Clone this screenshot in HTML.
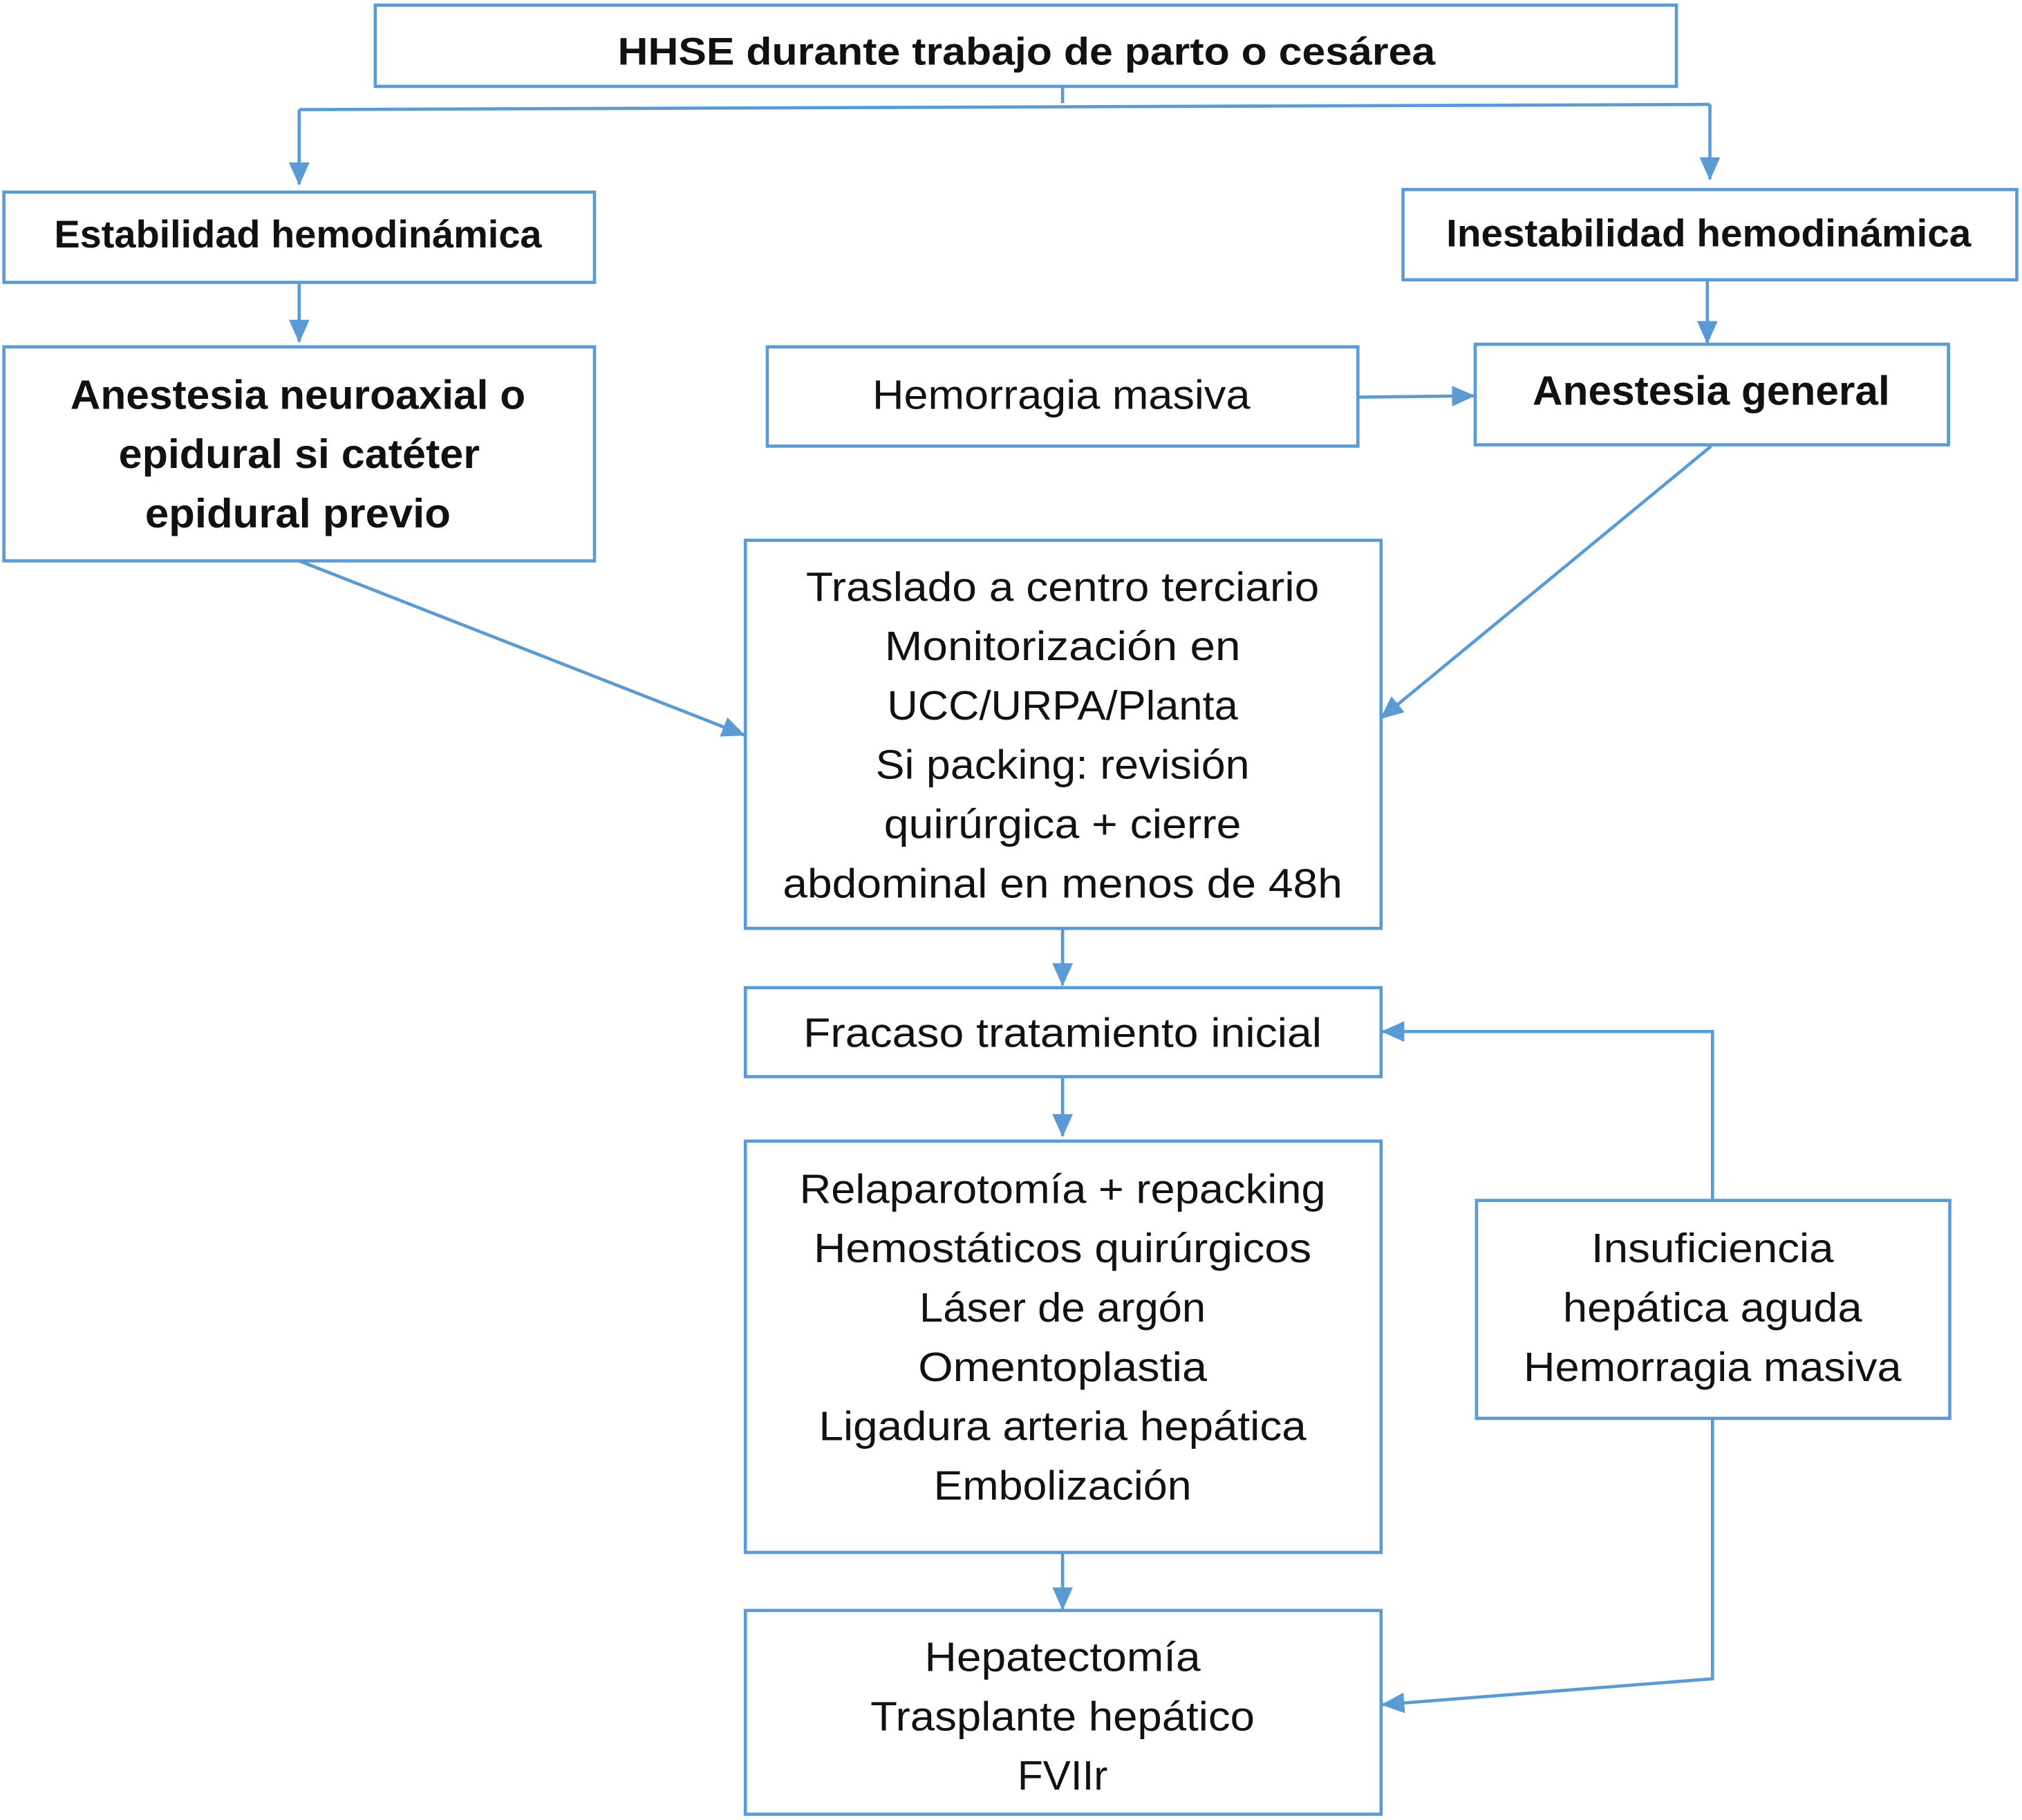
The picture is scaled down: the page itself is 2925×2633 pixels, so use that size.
<!DOCTYPE html>
<html><head><meta charset="utf-8"><style>
html,body{margin:0;padding:0;background:#fff;}
svg{display:block;}
text{font-family:"Liberation Sans",sans-serif;fill:#111;text-anchor:middle;}
.b{font-weight:bold;}
</style></head><body>
<svg width="2925" height="2633" viewBox="0 0 1568 1411.5" xmlns="http://www.w3.org/2000/svg">
<defs>
<marker id="h" markerWidth="18" markerHeight="16" refX="17" refY="8" orient="auto" markerUnits="userSpaceOnUse"><path d="M0,0 L18,8 L0,16 z" fill="#5b9bd5"/></marker></defs>
<g fill="none" stroke="#5b9bd5" stroke-width="2.5">
<rect x="291" y="4" width="1009" height="63"/>
<rect x="3" y="149" width="458" height="70"/>
<rect x="1088" y="147" width="476" height="70"/>
<rect x="3" y="269" width="458" height="166"/>
<rect x="595" y="269" width="458" height="77"/>
<rect x="1144" y="267" width="367" height="78"/>
<rect x="578" y="419" width="493" height="301"/>
<rect x="578" y="766" width="493" height="69"/>
<rect x="578" y="885" width="493" height="319"/>
<rect x="578" y="1249" width="493" height="158"/>
<rect x="1145" y="931" width="367" height="169"/>
<path d="M824,67 V80"/>
<path d="M232,85 L1326,81"/>
<path d="M232,85 V143" marker-end="url(#h)"/>
<path d="M1326,81 V139" marker-end="url(#h)"/>
<path d="M232,219 V265" marker-end="url(#h)"/>
<path d="M1324,217 V266" marker-end="url(#h)"/>
<path d="M1053,308 L1143,307" marker-end="url(#h)"/>
<path d="M1327,346 L1071,557" marker-end="url(#h)"/>
<path d="M232,435 L577,570" marker-end="url(#h)"/>
<path d="M824,720 V764" marker-end="url(#h)"/>
<path d="M824,835 V881" marker-end="url(#h)"/>
<path d="M824,1204 V1248" marker-end="url(#h)"/>
<path d="M1328,931 V800 H1072" marker-end="url(#h)"/>
<path d="M1328,1100 V1302 L1072,1322" marker-end="url(#h)"/>
</g>
<g font-size="30">
<text class="b" x="796" y="50" textLength="634" lengthAdjust="spacingAndGlyphs">HHSE durante trabajo de parto o cesárea</text>
<text class="b" x="231" y="192" textLength="378" lengthAdjust="spacingAndGlyphs">Estabilidad hemodinámica</text>
<text class="b" x="1325" y="191" textLength="407" lengthAdjust="spacingAndGlyphs">Inestabilidad hemodinámica</text>
</g>
<g font-size="32" class="b">
<text class="b" x="231" y="317" textLength="353" lengthAdjust="spacingAndGlyphs">Anestesia neuroaxial o</text>
<text class="b" x="232" y="363" textLength="280" lengthAdjust="spacingAndGlyphs">epidural si catéter</text>
<text class="b" x="231" y="409" textLength="237" lengthAdjust="spacingAndGlyphs">epidural previo</text>
<text class="b" x="1327" y="314" textLength="277" lengthAdjust="spacingAndGlyphs">Anestesia general</text>
</g>
<g font-size="32">
<text x="823" y="317" textLength="293" lengthAdjust="spacingAndGlyphs">Hemorragia masiva</text>
<text x="824" y="466" textLength="398" lengthAdjust="spacingAndGlyphs">Traslado a centro terciario</text>
<text x="824" y="512" textLength="276" lengthAdjust="spacingAndGlyphs">Monitorización en</text>
<text x="824" y="558" textLength="272" lengthAdjust="spacingAndGlyphs">UCC/URPA/Planta</text>
<text x="824" y="604" textLength="290" lengthAdjust="spacingAndGlyphs">Si packing: revisión</text>
<text x="824" y="650" textLength="277" lengthAdjust="spacingAndGlyphs">quirúrgica + cierre</text>
<text x="824" y="696" textLength="434" lengthAdjust="spacingAndGlyphs">abdominal en menos de 48h</text>
<text x="824" y="812" textLength="402" lengthAdjust="spacingAndGlyphs">Fracaso tratamiento inicial</text>
<text x="824" y="933" textLength="408" lengthAdjust="spacingAndGlyphs">Relaparotomía + repacking</text>
<text x="824" y="979" textLength="386" lengthAdjust="spacingAndGlyphs">Hemostáticos quirúrgicos</text>
<text x="824" y="1025" textLength="222" lengthAdjust="spacingAndGlyphs">Láser de argón</text>
<text x="824" y="1071" textLength="224" lengthAdjust="spacingAndGlyphs">Omentoplastia</text>
<text x="824" y="1117" textLength="378" lengthAdjust="spacingAndGlyphs">Ligadura arteria hepática</text>
<text x="824" y="1163" textLength="200" lengthAdjust="spacingAndGlyphs">Embolización</text>
<text x="824" y="1296" textLength="214" lengthAdjust="spacingAndGlyphs">Hepatectomía</text>
<text x="824" y="1342" textLength="298" lengthAdjust="spacingAndGlyphs">Trasplante hepático</text>
<text x="824" y="1388" textLength="70" lengthAdjust="spacingAndGlyphs">FVIIr</text>
<text x="1328" y="979" textLength="188" lengthAdjust="spacingAndGlyphs">Insuficiencia</text>
<text x="1328" y="1025" textLength="232" lengthAdjust="spacingAndGlyphs">hepática aguda</text>
<text x="1328" y="1071" textLength="293" lengthAdjust="spacingAndGlyphs">Hemorragia masiva</text>
</g>
</svg>
</body></html>
